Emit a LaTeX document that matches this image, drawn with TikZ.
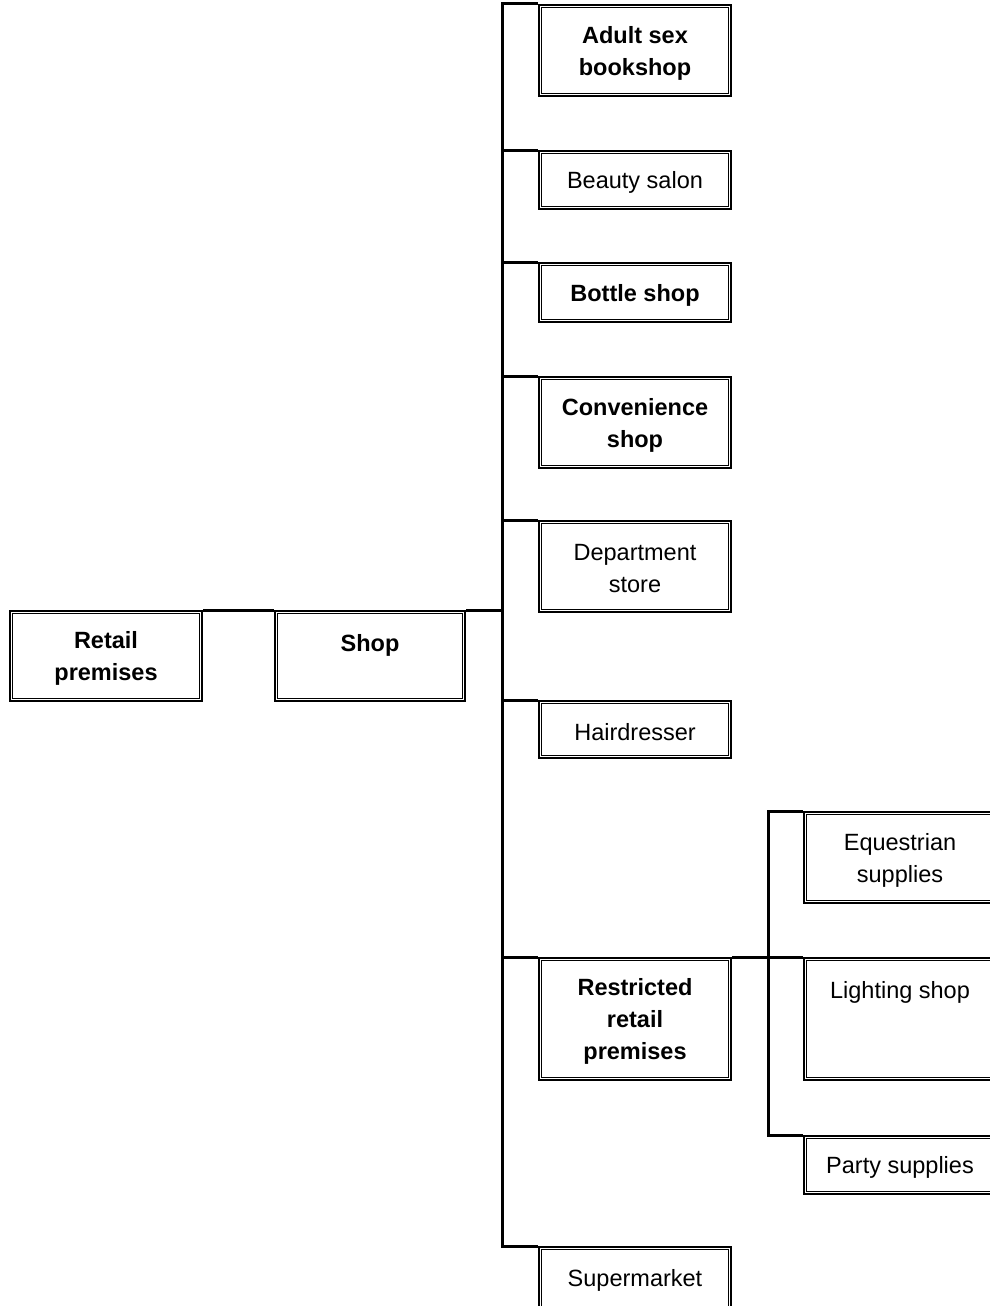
\documentclass[tikz,border=0pt]{standalone}
\usepackage{fontspec}
\setmainfont{Liberation Sans}
\begin{document}
\begin{tikzpicture}[x=1pt,y=-1pt,
  bx/.style={draw, line width=2pt, inner sep=0pt, minimum width=192pt,
    append after command={
      \pgfextra{\draw[line width=1pt]
        ([shift={(3.5pt,-3.5pt)}]\tikzlastnode.north west) rectangle
        ([shift={(-3.5pt,3.5pt)}]\tikzlastnode.south east);}}},
  tx/.style={align=center, inner sep=0pt, yshift=-2.5pt, font=\fontsize{23.5}{32}\selectfont},
  btx/.style={tx, font=\fontsize{23.5}{32}\selectfont\bfseries},
  link/.style={line width=3pt}]
\useasboundingbox (0,0) rectangle (990,1306);
% main column
\node[bx, minimum height=91pt, label={[btx]center:Adult sex\\bookshop}] (adult) at (635,50.5) {};
\node[bx, minimum height=58pt, label={[tx]center:Beauty salon}] (beauty) at (635,180) {};
\node[bx, minimum height=59pt, label={[btx]center:Bottle shop}] (bottle) at (635,292.5) {};
\node[bx, minimum height=91pt, label={[btx]center:Convenience\\shop}] (conv) at (635,422.5) {};
\node[bx, minimum height=91pt, label={[tx]center:Department\\store}] (dept) at (635,566.5) {};
\node[bx, minimum height=57pt, label={[tx]center:Hairdresser}] (hair) at (635,729.5) {};
\node[bx, minimum height=122pt, label={[btx]center:Restricted\\retail\\premises}] (restr) at (635,1019) {};
\node[bx, minimum height=62pt, label={[tx]center:Supermarket}] (super) at (635,1278) {};
% left
\node[bx, minimum height=90pt, label={[btx]center:Retail\\premises}] (retail) at (106,656) {};
\node[bx, minimum width=190pt, minimum height=90pt, label={[btx]center:Shop\\\mbox{}}] (shop) at (370,656) {};
% sub column
\node[bx, minimum height=91pt, label={[tx]center:Equestrian\\supplies}] (eq) at (900,857.5) {};
\node[bx, minimum height=122pt, label={[tx]center:Lighting shop\\\mbox{}\\\mbox{}}] (light) at (900,1019) {};
\node[bx, minimum height=58pt, label={[tx]center:Party supplies}] (party) at (900,1165) {};
% connectors
\draw[link] (retail.north east) -- (shop.north west);
\draw[link] (shop.north east) -- (shop.north east -| 502,0) coordinate (j);
\draw[link] (adult.north west) -| (j |- super.north) -- (super.north west);
\foreach \c in {beauty,bottle,conv,dept,hair,restr}
  \draw[link] (j |- \c.north) -- (\c.north west);
\draw[link] (restr.north east) -- (restr.north east -| 768,0) coordinate (k);
\draw[link] (eq.north west) -| (k |- party.north) -- (party.north west);
\draw[link] (k |- light.north) -- (light.north west);
\end{tikzpicture}
\end{document}
